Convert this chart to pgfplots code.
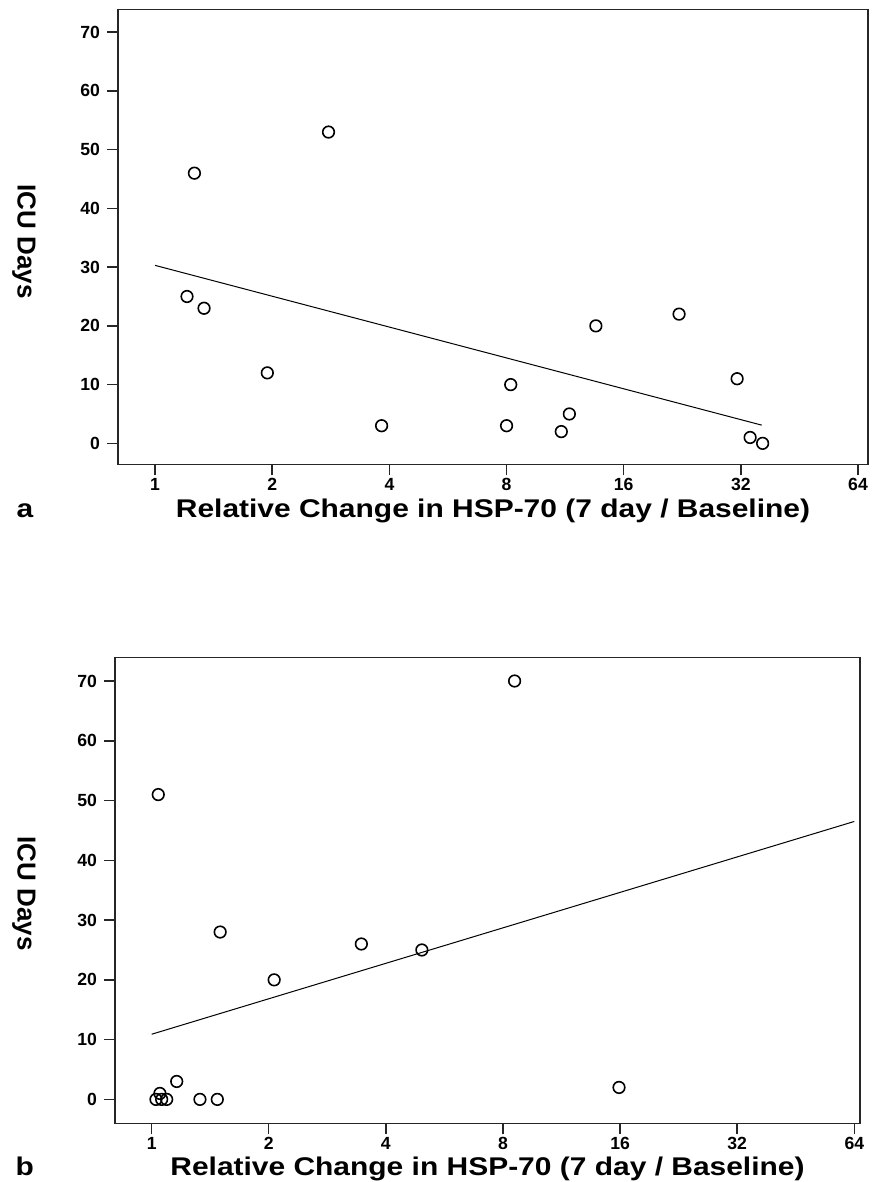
\documentclass[border=0pt]{standalone}
\usepackage{pgfplots}
\pgfplotsset{compat=1.18}
\usepackage{fontspec}
\setmainfont{Liberation Sans}
\newfontfamily\labfont{Liberation Sans}[FakeStretch=1.17]

\pgfplotstableread{
x y
1.208 25
1.262 46
1.336 23
1.943 12
2.79 53
3.82 3
8.0 3
8.2 10
11.06 2
11.6 5
13.57 20
22.2 22
31.3 11
33.8 1
36.4 0
}\dataA
\pgfplotstableread{
x y
1.0 30.3
36.2 3.1
}\fitA
\pgfplotstableread{
x y
1.04 51
8.57 70
1.50 28
2.065 20
3.46 26
4.95 25
15.9 2
1.16 3
1.05 1
1.026 0
1.061 0
1.093 0
1.331 0
1.475 0
}\dataB
\pgfplotstableread{
x y
1.0 10.9
64 46.5
}\fitB

\begin{document}
\begin{tikzpicture}
\useasboundingbox (0,0) rectangle (440.5pt,591pt);

\begin{axis}[
  xmode=log, log basis x=2,
  scale only axis, clip=false,
  at={(59pt,358.75pt)}, anchor=south west,
  width=375pt, height=227.6pt,
  xmin=0.803, xmax=67.9, ymin=-3.6, ymax=73.9,
  xtick={1,2,4,8,16,32,64},
  xticklabels={1,2,4,8,16,32,64},
  ytick={0,10,20,30,40,50,60,70},
  tick pos=left,
  tick align=outside,
  major tick length=5.5pt,
  axis line style={black!85, line width=0.75pt},
  tick style={black!85, line width=0.75pt},
  /pgf/number format/assume math mode=true,
  ticklabel style={font=\fontsize{8.8}{8.8}\selectfont\bfseries},
  xticklabel style={yshift=2pt},
  xlabel={Relative Change in HSP-70 (7 day / Baseline)},
  ylabel={ICU Days},
  xlabel style={font=\fontsize{12.8}{12.8}\selectfont\labfont\bfseries, anchor=base, at={(axis description cs:0.5,-0.1175)}},
  ylabel style={font=\fontsize{13}{13}\selectfont\bfseries, rotate=180, anchor=center, at={(axis description cs:-0.1253,0.49)}},
]
\addplot[no marks, black, line width=0.5pt] table[x=x,y=y] {\fitA};
\addplot[only marks, mark=o, mark size=2.9pt, mark options={black, line width=0.8pt}] table[x=x,y=y] {\dataA};
\node[anchor=base, font=\fontsize{12.8}{12.8}\selectfont\labfont\bfseries] at (axis description cs:-0.124,-0.1175) {a};
\end{axis}

\begin{axis}[
  xmode=log, log basis x=2,
  scale only axis, clip=false,
  at={(57.5pt,29.35pt)}, anchor=south west,
  width=372.5pt, height=232.8pt,
  xmin=0.805, xmax=66.2, ymin=-4.0, ymax=73.9,
  xtick={1,2,4,8,16,32,64},
  xticklabels={1,2,4,8,16,32,64},
  ytick={0,10,20,30,40,50,60,70},
  tick pos=left,
  tick align=outside,
  major tick length=5.5pt,
  axis line style={black!85, line width=0.75pt},
  tick style={black!85, line width=0.75pt},
  /pgf/number format/assume math mode=true,
  ticklabel style={font=\fontsize{8.8}{8.8}\selectfont\bfseries},
  xticklabel style={yshift=2pt},
  xlabel={Relative Change in HSP-70 (7 day / Baseline)},
  ylabel={ICU Days},
  xlabel style={font=\fontsize{12.8}{12.8}\selectfont\labfont\bfseries, anchor=base, at={(axis description cs:0.5,-0.113)}},
  ylabel style={font=\fontsize{13}{13}\selectfont\bfseries, rotate=180, anchor=center, at={(axis description cs:-0.122,0.493)}},
]
\addplot[no marks, black, line width=0.5pt] table[x=x,y=y] {\fitB};
\addplot[only marks, mark=o, mark size=2.9pt, mark options={black, line width=0.8pt}] table[x=x,y=y] {\dataB};
\node[anchor=base, font=\fontsize{12.8}{12.8}\selectfont\labfont\bfseries] at (axis description cs:-0.121,-0.113) {b};
\end{axis}
\end{tikzpicture}
\end{document}
